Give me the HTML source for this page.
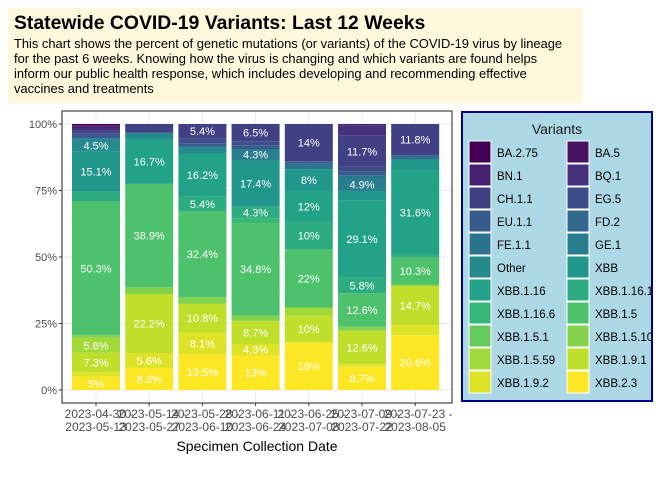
<!DOCTYPE html>
<html><head><meta charset="utf-8">
<style>
body{margin:0;background:#fff;font-family:"Liberation Sans",sans-serif;}
#wrap{position:relative;width:672px;height:480px;overflow:hidden;}
</style></head>
<body>
<div id="wrap">
<svg id="svg" width="672" height="480" xmlns="http://www.w3.org/2000/svg" font-family="Liberation Sans, sans-serif">
  <rect x="8" y="8" width="574" height="95" fill="#fff8dc"/>
  <text x="14" y="29" font-size="19.4" font-weight="bold" fill="#000">Statewide COVID-19 Variants: Last 12 Weeks</text>
  <g font-size="12.9" fill="#000">
    <text x="14" y="48">This chart shows the percent of genetic mutations (or variants) of the COVID-19 virus by lineage</text>
    <text x="14" y="63">for the past 6 weeks. Knowing how the virus is changing and which variants are found helps</text>
    <text x="14" y="78">inform our public health response, which includes developing and recommending effective</text>
    <text x="14" y="93">vaccines and treatments</text>
  </g>
  <g id="plot"></g>
  <g id="legend"></g>
</svg>
</div>
<script>
const weeks = ["2023-04-30 -|2023-05-13","2023-05-14 -|2023-05-27","2023-05-28 -|2023-06-10","2023-06-11 -|2023-06-24","2023-06-25 -|2023-07-08","2023-07-09 -|2023-07-22","2023-07-23 -|2023-08-05"];
const variants = ["BA.2.75","BA.5","BN.1","BQ.1","CH.1.1","EG.5","EU.1.1","FD.2","FE.1.1","GE.1","Other","XBB","XBB.1.16","XBB.1.16.1","XBB.1.16.6","XBB.1.5","XBB.1.5.1","XBB.1.5.10","XBB.1.5.59","XBB.1.9.1","XBB.1.9.2","XBB.2.3"];
// values per week, in variant order above
const w1 = [0.5,0.5,0.5,1,1,0.8,1,0,0.5,0,4.5,15.1,0,3.7,0,50.3,0,1,5.6,7.3,1.7,5];
const w2 = [0,0,0,0,3.3,0,0,0,0,0,2.5,0,16.7,0,0,38.9,0,2.5,0,22.2,5.6,8.3];
const w3 = [0,0,0,0,5.4,2,1.2,0,0,0,2.5,0,16.2,5.4,0,32.4,0,2.5,0,10.8,8.1,13.5];
const w4 = [0,0,0,0,6.5,1.5,1.4,0,0,4.3,0,17.4,0,4.3,1.8,34.8,0,2,0,8.7,4.3,13];
const w5 = [0,0,0,0,14,0,1,0,2,0,0,8,12,10,0,22,0,0,3,10,0,18];
const w6 = [0,0,0.5,3.9,11.7,1.7,1.5,0,1,4.9,0,3.5,29.1,5.8,0,12.6,0,1.5,0,12.6,1,8.7];
const w7 = [0,0,0,0,11.8,0,0,0,1.7,0,0,4,31.6,1,0,10.3,0,0.5,0,14.7,3.8,20.6];
const series = [w1,w2,w3,w4,w5,w6,w7];
const yTicks = [0,25,50,75,100];
const yTickLabels = ["0%","25%","50%","75%","100%"];

const NS="http://www.w3.org/2000/svg";
function mk(tag,attrs,parent){const e=document.createElementNS(NS,tag);for(const k in attrs)e.setAttribute(k,attrs[k]);parent.appendChild(e);return e;}
const stops=["#440154","#482878","#3e4989","#31688e","#26828e","#1f9e89","#35b779","#6ece58","#b5de2b","#fde725"];
function hex(h){return [1,3,5].map(i=>parseInt(h.substr(i,2),16));}
function viridis(t){const p=t*(stops.length-1);const i=Math.min(Math.floor(p),stops.length-2);const f=p-i;const a=hex(stops[i]),b=hex(stops[i+1]);return "rgb("+a.map((v,k)=>Math.round(v+(b[k]-v)*f)).join(",")+")";}
const colors=variants.map((v,i)=>viridis(i/(variants.length-1)));

const PX0=62,PX1=452,PY0=111,PY1=403;
function y(v){return 390-v*2.66;}
function xc(i){return 96+i*53.2;}
const plot=document.getElementById('plot');
const panel=mk('rect',{x:PX0,y:PY0,width:PX1-PX0,height:PY1-PY0,fill:'#fff'},plot);


[12.5,37.5,62.5,87.5].forEach(v=>{const l=mk('line',{x1:PX0,x2:PX1,y1:y(v),y2:y(v),stroke:'#f0f0f0','stroke-width':0.6},plot);});
yTicks.forEach(v=>{const l=mk('line',{x1:PX0,x2:PX1,y1:y(v),y2:y(v),stroke:'#ebebeb','stroke-width':1.1},plot);});
weeks.forEach((w,i)=>{const l=mk('line',{x1:xc(i),x2:xc(i),y1:PY0,y2:PY1,stroke:'#ebebeb','stroke-width':1.1},plot);});
series.forEach((vals,wi)=>{
  let cum=0;
  for(let vi=variants.length-1;vi>=0;vi--){
    const v=vals[vi]; if(v<=0) continue;
    const r=mk('rect',{x:xc(wi)-24,y:y(cum+v),width:48,height:v*2.66,fill:colors[vi]},plot);
    
    
    if(v>=4.2){
      const t=mk('text',{x:xc(wi),y:y(cum+v/2)+4,'text-anchor':'middle','font-size':11,fill:'#fff'},plot);
      t.textContent=(Math.round(v*10)/10)+"%";
      
      
    }
    cum+=v;
  }
});
const border=mk('rect',{x:PX0,y:PY0,width:PX1-PX0,height:PY1-PY0,fill:'none',stroke:'#333','stroke-width':1.1},plot);


yTicks.forEach((v,i)=>{
  const tk=mk('line',{x1:PX0-3,x2:PX0,y1:y(v),y2:y(v),stroke:'#333'},plot);
  
  
  const t=mk('text',{x:PX0-5,y:y(v)+4,'text-anchor':'end','font-size':11,fill:'#4d4d4d'},plot);
  t.textContent=yTickLabels[i];
  
  
});
weeks.forEach((w,i)=>{
  const tk=mk('line',{x1:xc(i),x2:xc(i),y1:PY1,y2:PY1+3,stroke:'#333'},plot);
  
  
  const parts=w.split('|');
  parts.forEach((p,k)=>{
    const t=mk('text',{x:xc(i)+(k==0?3:0),y:418+k*13,'text-anchor':'middle','font-size':12,fill:'#4d4d4d'},plot);
    t.textContent=p;
    
    
  });
});
const xt=mk('text',{x:257,y:451,'text-anchor':'middle','font-size':14,fill:'#000'},plot);
xt.textContent="Specimen Collection Date";


const lg=document.getElementById('legend');
const lb=mk('rect',{x:462,y:112,width:190,height:289,fill:'#add8e6',stroke:'#00008b','stroke-width':2},lg);


const lt=mk('text',{x:557,y:134,'text-anchor':'middle','font-size':14,fill:'#1a1a1a'},lg);
lt.textContent="Variants";


variants.forEach((v,i)=>{
  const row=Math.floor(i/2),col=i%2;
  const kx=469+col*98,ky=141+row*23;
  const g=mk('g',{},lg);
  
  
  mk('rect',{x:kx,y:ky,width:22,height:22,fill:colors[i],stroke:'#fff','stroke-width':1},g);
  const t=mk('text',{x:kx+28,y:ky+16,'font-size':11.5,fill:'#000'},g);
  t.textContent=v;
});
</script>
</body></html>
